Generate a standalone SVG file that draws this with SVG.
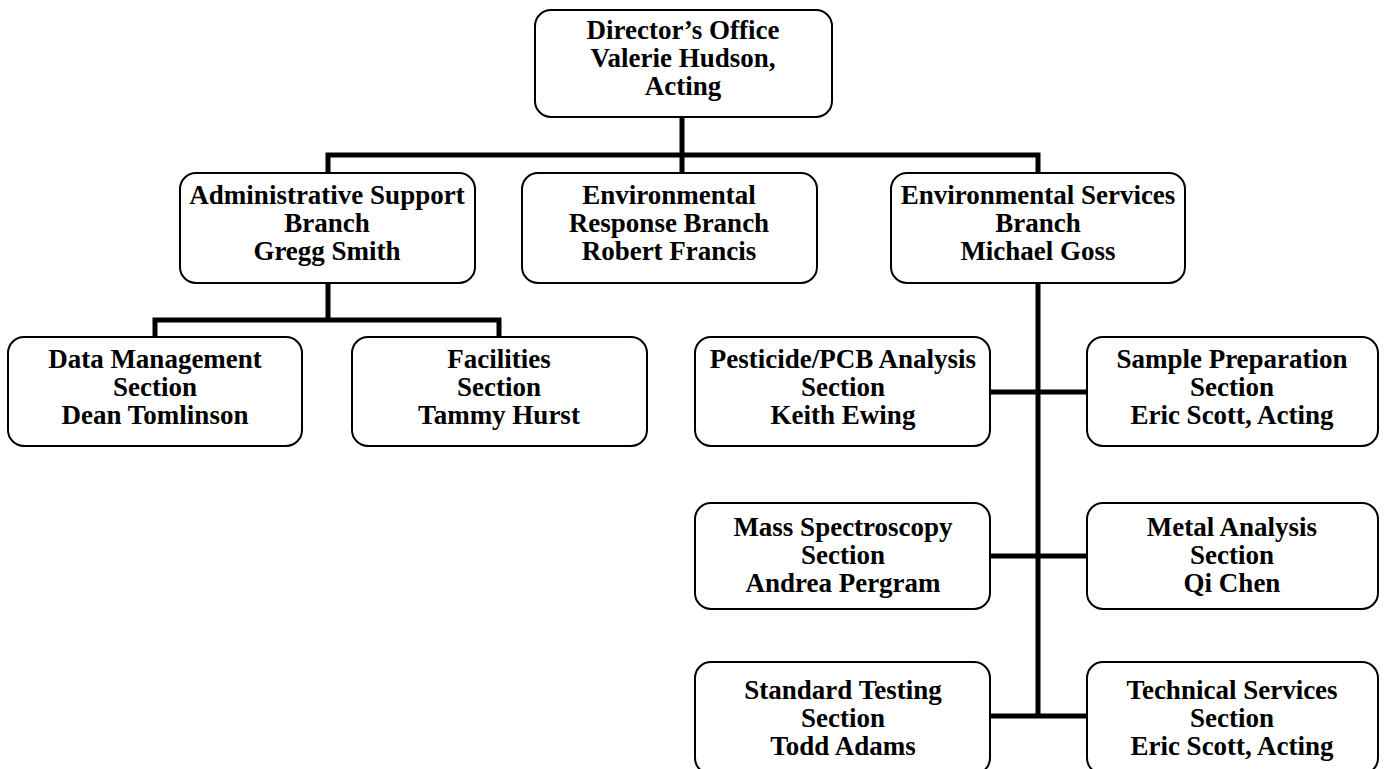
<svg xmlns="http://www.w3.org/2000/svg" width="1385" height="769" viewBox="0 0 1385 769">
<style>
.box{fill:#fff;stroke:#000;stroke-width:2}
.t{font-family:"Liberation Serif","Times New Roman",serif;font-weight:bold;font-size:27px;text-anchor:middle;fill:#000}
.c{stroke:#000;stroke-width:5;fill:none;stroke-linecap:square}
</style>
<rect width="1385" height="769" fill="#fff"/>
<g id="connectors">
<path class="c" d="M682 117V173M328 155H1038M328 155V173M1038 155V173"/>
<path class="c" d="M328 283V320M155 320H499M155 320V337M499 320V337"/>
<path class="c" d="M1038 283V716M990 392H1087M990 556H1087M990 716H1087"/>
</g>
<g id="director"><rect class="box" x="535" y="10" width="297" height="107" rx="16"/>
<text class="t" x="683" y="39">Director’s Office</text><text class="t" x="683" y="67">Valerie Hudson,</text><text class="t" x="683" y="95">Acting</text></g>
<g id="admin"><rect class="box" x="180" y="173" width="295" height="110" rx="16"/>
<text class="t" x="327" y="204">Administrative Support</text><text class="t" x="327" y="232">Branch</text><text class="t" x="327" y="260">Gregg Smith</text></g>
<g id="envresponse"><rect class="box" x="522" y="173" width="295" height="110" rx="16"/>
<text class="t" x="669" y="204">Environmental</text><text class="t" x="669" y="232">Response Branch</text><text class="t" x="669" y="260">Robert Francis</text></g>
<g id="envservices"><rect class="box" x="891" y="173" width="294" height="110" rx="16"/>
<text class="t" x="1038" y="204">Environmental Services</text><text class="t" x="1038" y="232">Branch</text><text class="t" x="1038" y="260">Michael Goss</text></g>
<g id="datamgmt"><rect class="box" x="8" y="337" width="294" height="109" rx="16"/>
<text class="t" x="155" y="368">Data Management</text><text class="t" x="155" y="396">Section</text><text class="t" x="155" y="424">Dean Tomlinson</text></g>
<g id="facilities"><rect class="box" x="352" y="337" width="295" height="109" rx="16"/>
<text class="t" x="499" y="368">Facilities</text><text class="t" x="499" y="396">Section</text><text class="t" x="499" y="424">Tammy Hurst</text></g>
<g id="pesticide"><rect class="box" x="695" y="337" width="295" height="109" rx="16"/>
<text class="t" x="843" y="368">Pesticide/PCB Analysis</text><text class="t" x="843" y="396">Section</text><text class="t" x="843" y="424">Keith Ewing</text></g>
<g id="sampleprep"><rect class="box" x="1087" y="337" width="291" height="109" rx="16"/>
<text class="t" x="1232" y="368">Sample Preparation</text><text class="t" x="1232" y="396">Section</text><text class="t" x="1232" y="424">Eric Scott, Acting</text></g>
<g id="massspec"><rect class="box" x="695" y="503" width="295" height="106" rx="16"/>
<text class="t" x="843" y="536">Mass Spectroscopy</text><text class="t" x="843" y="564">Section</text><text class="t" x="843" y="592">Andrea Pergram</text></g>
<g id="metal"><rect class="box" x="1087" y="503" width="291" height="106" rx="16"/>
<text class="t" x="1232" y="536">Metal Analysis</text><text class="t" x="1232" y="564">Section</text><text class="t" x="1232" y="592">Qi Chen</text></g>
<g id="standard"><rect class="box" x="695" y="662" width="295" height="112" rx="16"/>
<text class="t" x="843" y="699">Standard Testing</text><text class="t" x="843" y="727">Section</text><text class="t" x="843" y="755">Todd Adams</text></g>
<g id="technical"><rect class="box" x="1087" y="662" width="291" height="112" rx="16"/>
<text class="t" x="1232" y="699">Technical Services</text><text class="t" x="1232" y="727">Section</text><text class="t" x="1232" y="755">Eric Scott, Acting</text></g>
</svg>
